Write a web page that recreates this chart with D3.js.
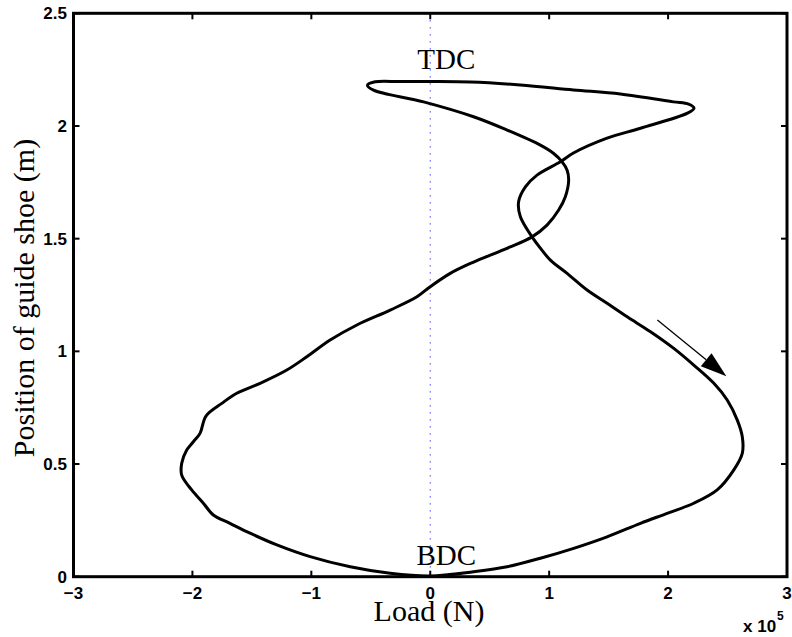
<!DOCTYPE html>
<html>
<head>
<meta charset="utf-8">
<script src="https://cdn.jsdelivr.net/npm/d3@7"></script>
<style>
  html, body { margin: 0; padding: 0; background: #fff; }
  svg { display: block; }
  .tick-label { font-family: "Liberation Sans", Arial, sans-serif; font-weight: bold; font-size: 17px; fill: #000; }
  .serif { font-family: "Liberation Serif", "Times New Roman", serif; fill: #000; }
</style>
</head>
<body>
<svg id="chart" width="792" height="637"></svg>
<script>
// Load on the guide shoe (units of 1e5 N) against its position (m), one full cycle.
const loadValues = [
  -0.528, -0.463, -0.253, 0.000, 0.337, 0.758, 1.204, 1.599, 2.045, 2.172, 2.218, 2.163,
  1.768, 1.487, 1.204, 1.094, 0.898, 0.800, 0.743, 0.758, 0.856, 0.926, 1.010, 1.151,
  1.319, 1.487, 1.656, 1.852, 2.048, 2.216, 2.385, 2.497, 2.582, 2.624, 2.624, 2.553,
  2.413, 2.216, 1.992, 1.768, 1.487, 1.206, 0.926, 0.646, 0.364, 0.000,
  -0.337, -0.673, -1.010, -1.290, -1.515, -1.684, -1.824, -1.908, -2.006, -2.090, -2.090,
  -2.048, -1.992, -1.936, -1.886, -1.753, -1.627, -1.431, -1.206, -1.038, -0.842,
  -0.617, -0.337, -0.112, 0.000, 0.168, 0.337, 0.505, 0.673, 0.856, 0.982, 1.080, 1.136,
  1.164, 1.151, 1.109, 1.038, 0.926, 0.646, 0.364, -0.056, -0.477
];
const positionValues = [
  2.181, 2.196, 2.197, 2.197, 2.195, 2.182, 2.160, 2.142, 2.107, 2.097, 2.079, 2.057,
  1.990, 1.946, 1.880, 1.841, 1.782, 1.730, 1.664, 1.597, 1.508, 1.458, 1.405, 1.346,
  1.272, 1.213, 1.153, 1.087, 1.013, 0.939, 0.858, 0.784, 0.695, 0.621, 0.547, 0.474,
  0.385, 0.326, 0.281, 0.237, 0.177, 0.126, 0.082, 0.044, 0.022, 0.003,
  0.015, 0.044, 0.089, 0.141, 0.193, 0.237, 0.274, 0.326, 0.385, 0.451, 0.503,
  0.562, 0.599, 0.636, 0.713, 0.769, 0.814, 0.858, 0.917, 0.976, 1.050,
  1.117, 1.183, 1.242, 1.287, 1.346, 1.390, 1.427, 1.463, 1.508, 1.560, 1.627, 1.686,
  1.760, 1.804, 1.841, 1.878, 1.915, 1.982, 2.041, 2.107, 2.159
];

const xTicks = [-3, -2, -1, 0, 1, 2, 3];
const yTicks = [0, 0.5, 1, 1.5, 2, 2.5];
const xTickLabels = ["\u22123", "\u22122", "\u22121", "0", "1", "2", "3"];
const yTickLabels = ["0", "0.5", "1", "1.5", "2", "2.5"];

// Direction-of-travel arrow (start, tip)
const arrowLoad = [1.91, 2.49];
const arrowPos = [1.139, 0.89];

// Dead-centre annotations
const annotations = [
  { text: "TDC", load: 0.135, pos: 2.252 },
  { text: "BDC", load: 0.135, pos: 0.05 }
];

const svg = d3.select("#chart");
const margin = { left: 73.5, top: 13.3, right: 5, bottom: 60.3 };
const W = 792, H = 637;

const x = d3.scaleLinear().domain([-3, 3]).range([margin.left, W - margin.right]);
const y = d3.scaleLinear().domain([0, 2.5]).range([H - margin.bottom, margin.top]);

const x0 = x.range()[0], x1 = x.range()[1];
const y0 = y.range()[0], y1 = y.range()[1];

// zero-load reference line
svg.append("line")
  .attr("x1", x(0)).attr("x2", x(0))
  .attr("y1", y(2.5)).attr("y2", y(0))
  .attr("stroke", "#3c3cff")
  .attr("stroke-width", 1.1)
  .attr("stroke-dasharray", "1.2,5.8");

// load-position loop
const pts = loadValues.map((v, i) => [v, positionValues[i]]);
svg.append("path")
  .datum(pts)
  .attr("fill", "none")
  .attr("stroke", "#000")
  .attr("stroke-width", 3)
  .attr("stroke-linejoin", "round")
  .attr("d", d3.line()
    .x(d => x(d[0]))
    .y(d => y(d[1]))
    .curve(d3.curveCatmullRomClosed.alpha(0.5)));

// arrow
{
  const sx = x(arrowLoad[0]), sy = y(arrowPos[0]);
  const tx = x(arrowLoad[1]), ty = y(arrowPos[1]);
  const ang = Math.atan2(ty - sy, tx - sx);
  const headLen = 26, headHalf = 8.5;
  const bx = tx - headLen * Math.cos(ang), by = ty - headLen * Math.sin(ang);
  svg.append("line")
    .attr("x1", sx).attr("y1", sy).attr("x2", bx).attr("y2", by)
    .attr("stroke", "#000").attr("stroke-width", 1.3);
  const nx = -Math.sin(ang), ny = Math.cos(ang);
  svg.append("polygon")
    .attr("points", [
      [tx, ty],
      [bx + nx * headHalf, by + ny * headHalf],
      [bx - nx * headHalf, by - ny * headHalf]
    ].map(p => p.join(",")).join(" "))
    .attr("fill", "#000");
}

// annotations
svg.selectAll("text.annot")
  .data(annotations)
  .join("text")
  .attr("class", "annot serif")
  .attr("x", d => x(d.load))
  .attr("y", d => y(d.pos))
  .attr("text-anchor", "middle")
  .attr("font-size", 29)
  .text(d => d.text);

// frame
const tickLen = 6;
const frame = svg.append("g").attr("stroke", "#000").attr("fill", "none");
frame.append("rect")
  .attr("x", x0).attr("y", y1)
  .attr("width", x1 - x0).attr("height", y0 - y1)
  .attr("stroke-width", 3);

xTicks.forEach(t => {
  frame.append("line").attr("x1", x(t)).attr("x2", x(t))
    .attr("y1", y0).attr("y2", y0 - tickLen).attr("stroke-width", 2);
  frame.append("line").attr("x1", x(t)).attr("x2", x(t))
    .attr("y1", y1).attr("y2", y1 + tickLen).attr("stroke-width", 2);
});
yTicks.forEach(t => {
  frame.append("line").attr("x1", x0).attr("x2", x0 + tickLen)
    .attr("y1", y(t)).attr("y2", y(t)).attr("stroke-width", 2);
  frame.append("line").attr("x1", x1).attr("x2", x1 - tickLen)
    .attr("y1", y(t)).attr("y2", y(t)).attr("stroke-width", 2);
});

// tick labels
svg.selectAll("text.xt")
  .data(xTicks)
  .join("text")
  .attr("class", "xt tick-label")
  .attr("x", d => x(d))
  .attr("y", y0 + 22.5)
  .attr("text-anchor", "middle")
  .text((d, i) => xTickLabels[i]);

svg.selectAll("text.yt")
  .data(yTicks)
  .join("text")
  .attr("class", "yt tick-label")
  .attr("x", x0 - 6.5)
  .attr("y", d => y(d) + 6)
  .attr("text-anchor", "end")
  .text((d, i) => yTickLabels[i]);

// exponent
const expo = svg.append("text").attr("class", "tick-label")
  .attr("x", 743).attr("y", 632);
expo.append("tspan").text("x 10");
expo.append("tspan").attr("font-size", 12).attr("dy", -12).attr("dx", 1).text("5");

// axis titles
svg.append("text")
  .attr("class", "serif")
  .attr("x", 429)
  .attr("y", 621)
  .attr("text-anchor", "middle")
  .attr("font-size", 30)
  .text("Load (N)");

svg.append("text")
  .attr("class", "serif")
  .attr("transform", "translate(34,298) rotate(-90)")
  .attr("text-anchor", "middle")
  .attr("font-size", 30)
  .text("Position of guide shoe (m)");
</script>
</body>
</html>
